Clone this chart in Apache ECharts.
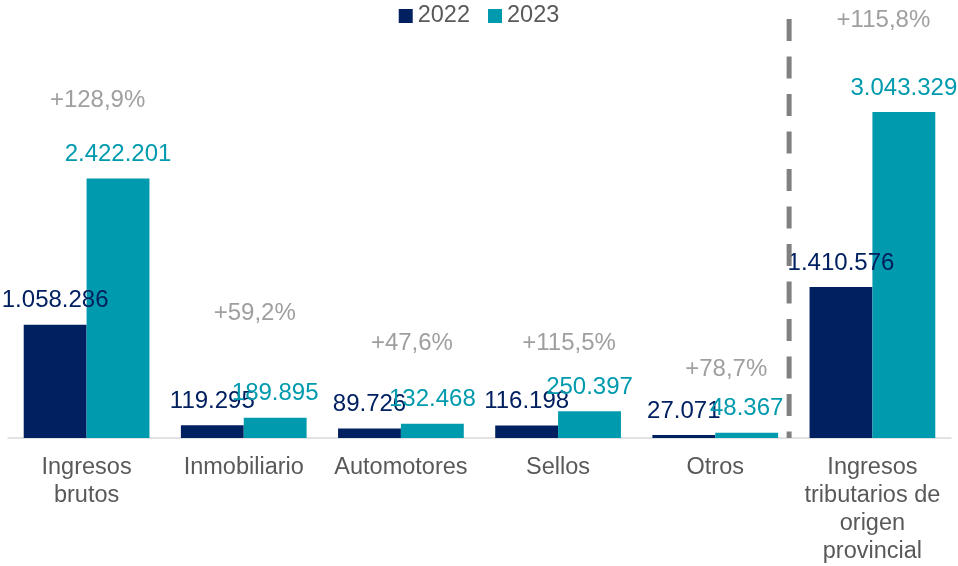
<!DOCTYPE html>
<html lang="es">
<head>
    <meta charset="UTF-8">
    <title>Recaudación</title>
    <script src="https://cdn.jsdelivr.net/npm/echarts@6/dist/echarts.min.js"></script>
    <style>
        html, body { margin: 0; padding: 0; background: #fff; }
        .box { width: 958px; height: 566px; }
    </style>
</head>
<body>
    <div class="box"></div>
    <script>
        // datos
        var categories = ['Ingresos\nbrutos', 'Inmobiliario', 'Automotores', 'Sellos', 'Otros',
            'Ingresos\ntributarios de\norigen\nprovincial'];
        var values2022 = [1058286, 119295, 89726, 116198, 27071, 1410576];
        var values2023 = [2422201, 189895, 132468, 250397, 48367, 3043329];
        // altura (en unidades del eje) donde va cada etiqueta de variacion
        var pctLabelY = [3156000, 1162000, 887000, 887000, 640000, 3898000];
        var dividerX = 4.97;
        var dividerTop = 3912000;

        var font = 'Liberation Sans, Arial, sans-serif';
        var navy = '#002060';
        var teal = '#009aae';

        function fmt(v) {
            return String(v).replace(/\B(?=(\d{3})+(?!\d))/g, '.');
        }

        var pctData = values2023.map(function (v, i) {
            var p = (v / values2022[i] - 1) * 100;
            return {
                value: [i + 0.5, pctLabelY[i]],
                label: { formatter: '+' + p.toFixed(1).replace('.', ',') + '%' }
            };
        });

        var chart = echarts.init(document.querySelector('.box'));
        chart.setOption({
            animation: false,
            textStyle: { fontFamily: font },
            legend: {
                data: ['2022', '2023'],
                top: -1,
                left: 'center',
                icon: 'rect',
                itemWidth: 14,
                itemHeight: 14,
                itemGap: 18,
                textStyle: { fontSize: 23.5, color: '#595959', fontFamily: font }
            },
            grid: { left: 8, right: 7, top: 0, bottom: 128 },
            xAxis: [{
                type: 'category',
                data: categories,
                axisTick: { show: false },
                axisLine: { lineStyle: { color: '#d9d9d9', width: 1.5 } },
                axisLabel: {
                    interval: 0,
                    margin: 16,
                    fontSize: 23.5,
                    lineHeight: 28,
                    color: '#595959',
                    fontFamily: font
                }
            }, {
                type: 'value',
                min: 0,
                max: 6,
                show: false
            }],
            yAxis: {
                type: 'value',
                min: 0,
                max: 4090000,
                show: false,
                splitLine: { show: false }
            },
            series: [{
                name: '2022',
                type: 'bar',
                data: values2022,
                barGap: 0,
                barCategoryGap: '20%',
                itemStyle: { color: navy },
                label: {
                    show: true,
                    position: 'top',
                    distance: 12,
                    fontSize: 24,
                    lineHeight: 24,
                    color: navy,
                    fontFamily: font,
                    formatter: function (p) { return fmt(p.value); }
                }
            }, {
                name: '2023',
                type: 'bar',
                data: values2023,
                barGap: 0,
                barCategoryGap: '20%',
                itemStyle: { color: teal },
                label: {
                    show: true,
                    position: 'top',
                    distance: 12,
                    fontSize: 24,
                    lineHeight: 24,
                    color: teal,
                    fontFamily: font,
                    formatter: function (p) { return fmt(p.value); }
                }
            }, {
                name: 'variacion',
                type: 'scatter',
                xAxisIndex: 1,
                symbolSize: 0,
                data: pctData,
                silent: true,
                label: {
                    show: true,
                    position: 'inside',
                    offset: [11, 0],
                    fontSize: 24,
                    color: '#878787',
                    fontFamily: font
                }
            }, {
                name: 'divisor',
                type: 'line',
                xAxisIndex: 1,
                symbol: 'none',
                silent: true,
                data: [[dividerX, dividerTop], [dividerX, 0]],
                lineStyle: { color: '#808080', width: 5, type: [22, 15.5] }
            }]
        });
    </script>
</body>
</html>
